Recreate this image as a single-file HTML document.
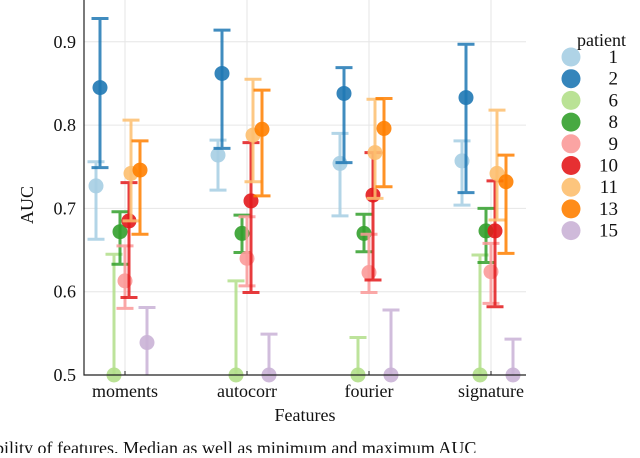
<!DOCTYPE html>
<html><head><meta charset="utf-8"><style>
body{margin:0;background:#fff;width:640px;height:453px;overflow:hidden;font-family:"Liberation Serif",serif}
svg text{font-family:"Liberation Serif",serif;fill:#111}
</style></head><body>
<svg id="chart" width="640" height="453" viewBox="0 0 640 453" xmlns="http://www.w3.org/2000/svg"></svg>
<script>
const categories=["moments","autocorr","fourier","signature"];
const patients=["1","2","6","8","9","10","11","13","15"];
const colors=["#a6cee3","#1f78b4","#b2df8a","#33a02c","#fb9a99","#e31a1c","#fdbf6f","#ff7f00","#cab2d6"];
const yTicks=[0.5,0.6,0.7,0.8,0.9];
const medians=[
 [0.727,0.845,0.5,0.672,0.613,0.685,0.742,0.746,0.539],
 [0.764,0.862,0.5,0.670,0.640,0.709,0.788,0.795,0.5],
 [0.754,0.838,0.5,0.670,0.623,0.716,0.767,0.796,0.5],
 [0.757,0.833,0.5,0.673,0.624,0.673,0.742,0.732,0.5]];
const lows=[
 [0.663,0.749,0.5,0.633,0.580,0.593,0.685,0.669,0.5],
 [0.722,0.772,0.5,0.647,0.607,0.599,0.732,0.715,0.5],
 [0.691,0.755,0.5,0.648,0.599,0.614,0.712,0.726,0.5],
 [0.704,0.719,0.5,0.635,0.586,0.582,0.686,0.646,0.5]];
const highs=[
 [0.756,0.928,0.645,0.696,0.655,0.731,0.806,0.781,0.581],
 [0.782,0.914,0.613,0.692,0.690,0.779,0.855,0.842,0.549],
 [0.790,0.869,0.545,0.693,0.669,0.767,0.831,0.832,0.578],
 [0.781,0.897,0.644,0.700,0.658,0.733,0.818,0.764,0.543]];
const offsets=[-29,-25,-11,-5,0,4,6,15,22];
const NS="http://www.w3.org/2000/svg";
const svg=document.getElementById("chart");
function el(t,a,p){const e=document.createElementNS(NS,t);for(const k in a)e.setAttribute(k,a[k]);(p||svg).appendChild(e);return e;}
const L=84,R=526,B=375;
const y=v=>B-(v-0.5)*833;
const x=i=>125+i*122;
yTicks.forEach(t=>{
 const g=el("line",{x1:L,x2:R,y1:y(t),y2:y(t),stroke:"#e6e6e6","stroke-width":1});
 
 
 const tx=el("text",{x:L-8,y:y(t)+6,"text-anchor":"end","font-size":18});tx.textContent=t.toFixed(1);
 
 
});
categories.forEach((c,i)=>{
 const g=el("line",{x1:x(i),x2:x(i),y1:0,y2:B,stroke:"#e6e6e6","stroke-width":1});
 
 
 el("line",{x1:x(i),x2:x(i),y1:B,y2:B-4,stroke:"#222","stroke-width":1});
 const tx=el("text",{x:x(i),y:397,"text-anchor":"middle","font-size":18});tx.textContent=c;
 
 
});
categories.forEach((c,i)=>{
 patients.forEach((p,j)=>{
  const g=el("g",{opacity:0.85});
  
  
  const cx=x(i)+offsets[j],col=colors[j];
  el("line",{x1:cx,x2:cx,y1:y(lows[i][j]),y2:y(highs[i][j]),stroke:col,"stroke-width":3},g);
  el("line",{x1:cx-8.5,x2:cx+8.5,y1:y(highs[i][j]),y2:y(highs[i][j]),stroke:col,"stroke-width":3},g);
  if(lows[i][j]>0.5)el("line",{x1:cx-8.5,x2:cx+8.5,y1:y(lows[i][j]),y2:y(lows[i][j]),stroke:col,"stroke-width":3},g);
  const m=el("circle",{cx:cx,cy:y(medians[i][j]),r:7.5,fill:col});
  
  
  m.setAttribute('opacity','0.9');
 });
});
const ax=el("path",{d:`M${L} 0 V${B} H${R}`,fill:"none",stroke:"#222","stroke-width":1.2});


const xt=el("text",{x:305,y:421,"text-anchor":"middle","font-size":18});xt.textContent="Features";


const yt=el("text",{x:0,y:0,"text-anchor":"middle","font-size":18,transform:"translate(33,205) rotate(-90)"});yt.textContent="AUC";


const lt=el("text",{x:577,y:46,"font-size":18});lt.textContent="patient";


patients.forEach((p,j)=>{
 const cy=57+j*21.7;
 const c=el("circle",{cx:571,cy:cy,r:9.5,fill:colors[j],opacity:0.9});
 
 
 const t=el("text",{x:618,y:cy+6,"text-anchor":"end","font-size":19});t.textContent=p;
 
 
});
const cap=el("text",{x:-5,y:454,"font-size":18});cap.textContent="bility of features. Median as well as minimum and maximum AUC";


</script>
</body></html>
